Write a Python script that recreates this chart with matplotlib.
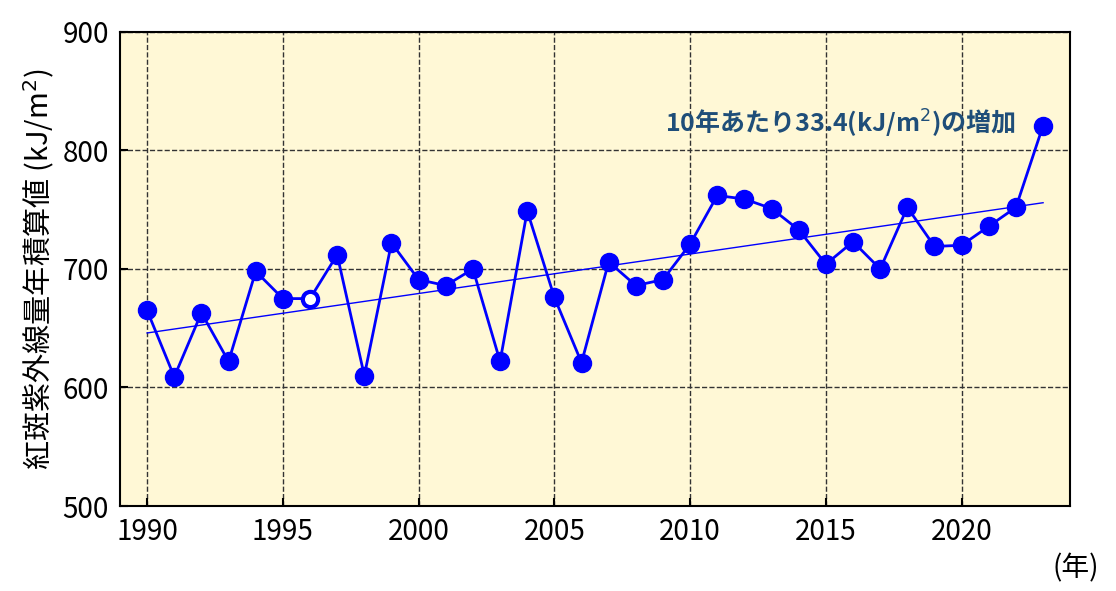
import matplotlib
matplotlib.use("Agg")
import matplotlib.pyplot as plt
import numpy as np

plt.rcParams['font.family'] = ['Noto Sans CJK JP', 'DejaVu Sans']

years = list(range(1990, 2024))
values = [665, 609, 663, 622, 698, 675, 675, 712, 610, 722, 691, 686, 700, 622, 749,
          676, 621, 706, 686, 691, 721, 762, 759, 751, 733, 704, 723, 700, 752, 719,
          720, 736, 752, 821]
open_years = [1996]

fig = plt.figure(figsize=(11.16, 5.91), dpi=100)
ax = fig.add_axes([0.1075, 0.1438, 0.8515, 0.8022])
ax.set_facecolor('#FFF8D6')
blue = '#0000FF'

x = np.array(years); y = np.array(values)
coef = np.polyfit(x, y, 1)
ax.plot([x[0], x[-1]], np.polyval(coef, [x[0], x[-1]]), color=blue, lw=1)
ax.plot(x, y, color=blue, lw=2, zorder=3)
filled = [i for i, yr in enumerate(years) if yr not in open_years]
opn = [i for i, yr in enumerate(years) if yr in open_years]
ax.plot(x[filled], y[filled], 'o', color=blue, ms=13, zorder=4, ls='none')
ax.plot(x[opn], y[opn], 'o', mfc='white', mec=blue, mew=3, ms=11, zorder=4, ls='none')

ax.set_xlim(1989, 2024)
ax.set_ylim(500, 900)
ax.set_xticks(range(1990, 2021, 5))
ax.set_yticks(range(500, 901, 100))
ax.grid(True, ls='--', color='#333333', lw=1)
ax.tick_params(direction='in', labelsize=20, length=6, width=1.5, pad=8)
for s in ax.spines.values():
    s.set_linewidth(1.5)
ax.set_ylabel('紅斑紫外線量年積算値 (kJ/m$^2$)', fontsize=21)
fig.text(0.985, 0.025, '(年)', fontsize=20, ha='right')
ax.text(2022, 822, '10年あたり33.4(kJ/m$^2$)の増加', fontsize=18, fontweight='bold',
        color='#1F4E79', ha='right', va='center')
fig.savefig('out.png', dpi=100)
